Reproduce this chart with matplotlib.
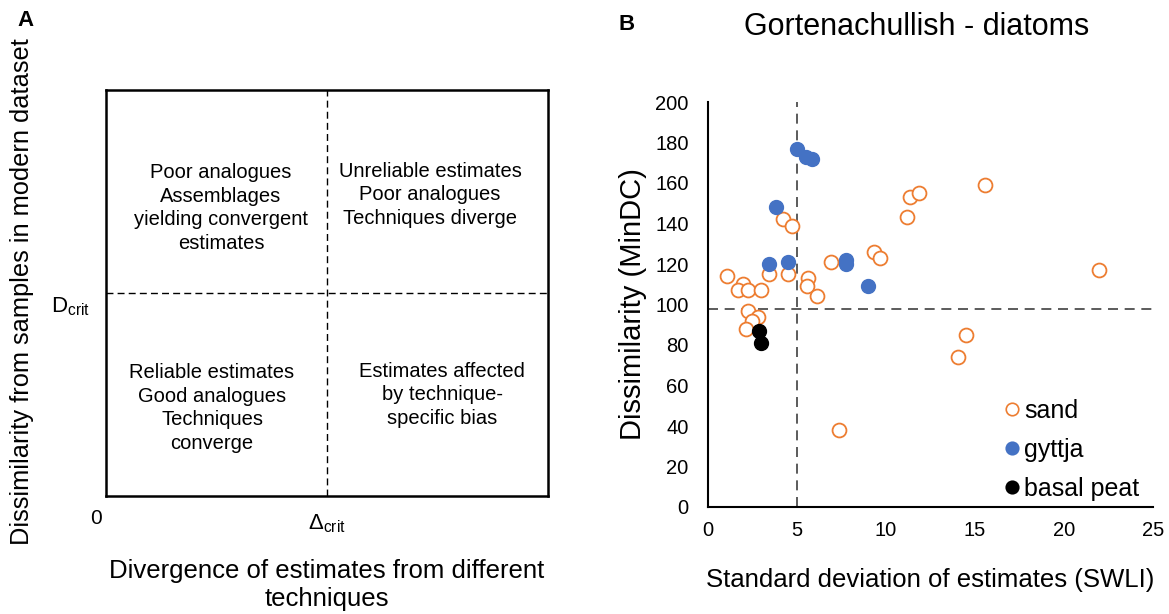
import numpy as np
import matplotlib
matplotlib.use('Agg')
import matplotlib.pyplot as plt

plt.rcParams['font.family'] = ['Liberation Sans', 'DejaVu Sans']
plt.rcParams['mathtext.fontset'] = 'custom'
plt.rcParams['mathtext.rm'] = 'Liberation Sans'
plt.rcParams['mathtext.it'] = 'Liberation Sans:italic'

W, H = 1169, 614

# panel B data
sand_x = [1.05, 1.98, 1.70, 2.26, 2.98, 3.43, 4.48, 4.20, 4.73, 5.63, 5.57, 6.10,
          6.93, 9.30, 9.68, 11.36, 11.88, 11.17, 15.56, 21.96, 14.52, 14.05,
          2.23, 2.79, 2.46, 2.14, 7.36]
sand_y = [114, 110, 107, 107, 107, 115, 115, 142, 139, 113, 109, 104,
          121, 126, 123, 153, 155, 143, 159, 117, 85, 74,
          97, 94, 92, 88, 38]
gyttja_x = [5.01, 5.48, 5.82, 3.82, 3.41, 4.48, 7.74, 7.74, 8.98]
gyttja_y = [177, 173, 172, 148, 120, 121, 122, 120, 109]
peat_x = [2.89, 2.98]
peat_y = [87, 81]
d_crit = 98
delta_crit = 5

# panel A quadrant texts
quad_text = {
    'tl': "Poor analogues\nAssemblages\nyielding convergent\nestimates",
    'tr': "Unreliable estimates\nPoor analogues\nTechniques diverge",
    'bl': "Reliable estimates\nGood analogues\nTechniques\nconverge",
    'br': "Estimates affected\nby technique-\nspecific bias",
}

orange = '#ED7D31'
blue = '#4472C4'
dash = '#404040'


def px_rect(left, top, right, bottom):
    return [left / W, 1 - bottom / H, (right - left) / W, (bottom - top) / H]


fig = plt.figure(figsize=(W / 100, H / 100), dpi=100)

# ---------- panel A ----------
axA = fig.add_axes(px_rect(106, 90, 548, 496))
axA.set_xlim(0, 1)
axA.set_ylim(0, 1)
axA.set_xticks([])
axA.set_yticks([])
for s in axA.spines.values():
    s.set_linewidth(1.8)
axA.axvline(0.5, color='black', ls=(0, (5, 3)), lw=1)
axA.axhline(0.5, color='black', ls=(0, (5, 3)), lw=1)
kw = dict(ha='center', va='center', fontsize=14.5, linespacing=1.33)
# block centres in pixels -> axes fraction
axA.text((221 - 106) / 442, (496 - 208) / 406, quad_text['tl'], **kw)
axA.text((430 - 106) / 442, (496 - 195) / 406, quad_text['tr'], **kw)
axA.text((212 - 106) / 442, (496 - 408) / 406, quad_text['bl'], **kw)
axA.text((442 - 106) / 442, (496 - 395) / 406, quad_text['br'], **kw)

fig.text(96 / W, 1 - 519 / H, '0', ha='center', va='center', fontsize=15)
fig.text(327 / W, 1 - 524 / H, r'$\mathrm{\Delta_{crit}}$', ha='center', va='center', fontsize=16)
fig.text(70 / W, 1 - 307 / H, r'$\mathrm{D_{crit}}$', ha='center', va='center', fontsize=16)
fig.text(327 / W, 1 - 585 / H, 'Divergence of estimates from different\ntechniques',
         ha='center', va='center', fontsize=18.5, linespacing=1.25)
fig.text(22 / W, 1 - 292 / H, 'Dissimilarity from samples in modern dataset',
         ha='center', va='center', rotation=90, fontsize=18.3)
fig.text(17 / W, 1 - 20 / H, 'A', ha='left', va='center', fontsize=16, fontweight='bold')

# ---------- panel B ----------
axB = fig.add_axes(px_rect(708, 102, 1153, 507))
axB.set_xlim(0, 25)
axB.set_ylim(0, 200)
axB.set_xticks(np.arange(0, 26, 5))
axB.set_yticks(np.arange(0, 201, 20))
axB.tick_params(length=0, labelsize=14.5)
axB.tick_params(axis='y', pad=14)
axB.tick_params(axis='x', pad=10)
axB.spines['top'].set_visible(False)
axB.spines['right'].set_visible(False)
axB.spines['left'].set_linewidth(1.5)
axB.spines['bottom'].set_linewidth(1.5)

axB.axvline(delta_crit, color=dash, ls=(0, (6, 4)), lw=1.2, zorder=1)
axB.axhline(d_crit, color=dash, ls=(0, (6, 4)), lw=1.2, zorder=1)

axB.plot(sand_x, sand_y, 'o', ms=10, mfc='white', mec=orange, mew=1.3,
         label='sand', zorder=3)
axB.plot(gyttja_x, gyttja_y, 'o', ms=10, mfc=blue, mec=blue, label='gyttja', zorder=4)
axB.plot(peat_x, peat_y, 'o', ms=10, mfc='black', mec='black', label='basal peat', zorder=5)

leg = axB.legend(loc='lower right', bbox_to_anchor=(1.02, -0.04), frameon=False,
                 fontsize=18, markerscale=0.9, handlelength=0.5, handletextpad=0.25,
                 labelspacing=0.6)
for h in leg.legend_handles:
    h.set_markeredgewidth(1.2)

axB.set_xlabel('Standard deviation of estimates (SWLI)', fontsize=18.5, labelpad=20)
axB.set_ylabel('Dissimilarity (MinDC)', fontsize=21, labelpad=6)
fig.text(917 / W, 1 - 27 / H, 'Gortenachullish - diatoms', ha='center', va='center', fontsize=22)
fig.text(619 / W, 1 - 25 / H, 'B', ha='left', va='center', fontsize=16, fontweight='bold')

fig.savefig('out.png', dpi=100)
